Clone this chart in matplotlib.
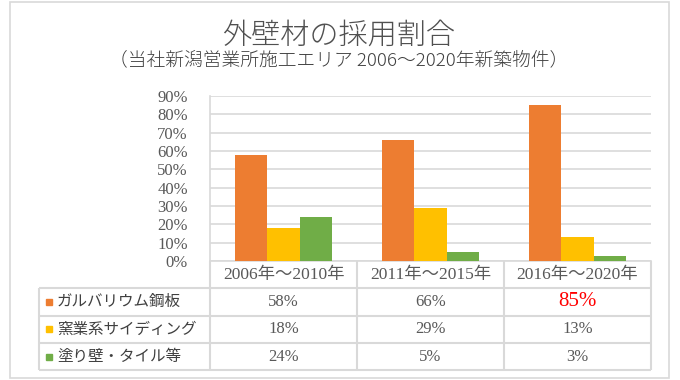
#!/usr/bin/env python3
"""
Exterior wall material share, Excel-style bar chart with a data table below.
Saves out.png (680x380).
"""

import matplotlib.pyplot as plt
import matplotlib.transforms as mtransforms
from matplotlib.patches import Rectangle

# --- data -------------------------------------------------------------
periods = ['2006年～2010年', '2011年～2015年', '2016年～2020年']
materials = ['ガルバリウム鋼板', '窯業系サイディング', '塗り壁・タイル等']
galvalume = [58, 66, 85]
siding = [18, 29, 13]
plaster = [24, 5, 3]
y_ticks = [0, 10, 20, 30, 40, 50, 60, 70, 80, 90]

title = '外壁材の採用割合'
subtitle = '（当社新潟営業所施工エリア 2006～2020年新築物件）'

# --- style ------------------------------------------------------------
COLORS = ['#ED7D31', '#FFC000', '#70AD47']
GRID = '#D9D9D9'
TEXT = '#595959'
SERIF = ['Liberation Serif', 'Noto Sans CJK JP']
GOTHIC = ['Noto Sans CJK JP', 'DejaVu Sans']

W, H = 680, 380


def px(x, y):
    """pixel position (from top-left) -> figure fraction"""
    return x / W, 1 - y / H


def main():
    plt.rcParams['font.family'] = SERIF

    fig = plt.figure(figsize=(W / 100, H / 100), dpi=100)

    # outer chart border
    fig.patches.append(Rectangle(px(10, 378), 659 / W, 376 / H,
                                 transform=fig.transFigure, fill=False,
                                 edgecolor=GRID, linewidth=1.2))

    fig.text(*px(339, 35), title, ha='center', va='center', fontsize=21,
             fontweight='light', color='#505050', family=GOTHIC)
    fig.text(*px(339, 60), subtitle, ha='center', va='center',
             fontsize=13.5, fontweight='light', color='#404040', family=GOTHIC)

    # plot area: x 210..651, y 96..261
    ax = fig.add_axes([210 / W, (H - 261) / H, 441 / W, 165 / H])

    series = [galvalume, siding, plaster]
    width = 0.22
    xs = range(len(periods))
    for i, (vals, color) in enumerate(zip(series, COLORS)):
        ax.bar([x + (i - 1) * width for x in xs], vals, width,
               color=color, zorder=3)

    ax.set_xlim(-0.5, len(periods) - 0.5)
    ax.set_ylim(0, 90)
    ax.set_yticks(y_ticks)
    ax.set_yticklabels([f'{t}%' for t in y_ticks], fontsize=12, color=TEXT)
    ax.tick_params(axis='y', length=0, pad=16)
    ax.set_xticks([])
    ax.grid(axis='y', color=GRID, linewidth=1.2, zorder=0)
    for side in ['top', 'right']:
        ax.spines[side].set_visible(False)
    for side in ['left', 'bottom']:
        ax.spines[side].set_color(GRID)
        ax.spines[side].set_linewidth(1.2)

    # --- data table below the axes ------------------------------------
    trans = mtransforms.blended_transform_factory(ax.transData, ax.transAxes)
    rh = 27.3 / 165                 # row height in axes fraction
    x_left = -0.5 - 171 / 147       # left edge of label column
    x_right = len(periods) - 0.5
    bounds = [x - 0.5 for x in range(len(periods) + 1)]
    n_rows = len(materials)

    def line(xv, yv):
        ax.plot(xv, yv, color=GRID, linewidth=1.5, transform=trans,
                clip_on=False, solid_capstyle='butt')

    # header row
    for b in bounds:
        line([b, b], [0, -rh])
    line([x_left, x_right], [-rh, -rh])
    for x, p in zip(xs, periods):
        ax.text(x, -rh / 2, p, ha='center', va='center', fontsize=12.5,
                color=TEXT, transform=trans)

    # body rows
    for r in range(n_rows):
        yb = -rh * (r + 2)
        line([x_left, x_right], [yb, yb])
    for b in [x_left] + bounds:
        line([b, b], [-rh, -rh * (n_rows + 1)])

    for r, (name, vals, color) in enumerate(zip(materials, series, COLORS)):
        yc = -rh * (r + 1.5)
        ax.plot([-0.5 - 161.5 / 147], [yc], marker='s', markersize=4.5,
                color=color, transform=trans, clip_on=False)
        ax.text(-0.5 - 153 / 147, yc, name, ha='left', va='center',
                fontsize=11.2, color='#404040', family=GOTHIC, transform=trans)
        for x, v in zip(xs, vals):
            hot = (r == 0 and x == len(periods) - 1)
            ax.text(x, yc, f'{v}%', ha='center', va='center',
                    fontsize=15 if hot else 12,
                    color='#FF0000' if hot else TEXT, transform=trans)

    fig.savefig('out.png', dpi=100)
    plt.close(fig)


if __name__ == '__main__':
    main()
